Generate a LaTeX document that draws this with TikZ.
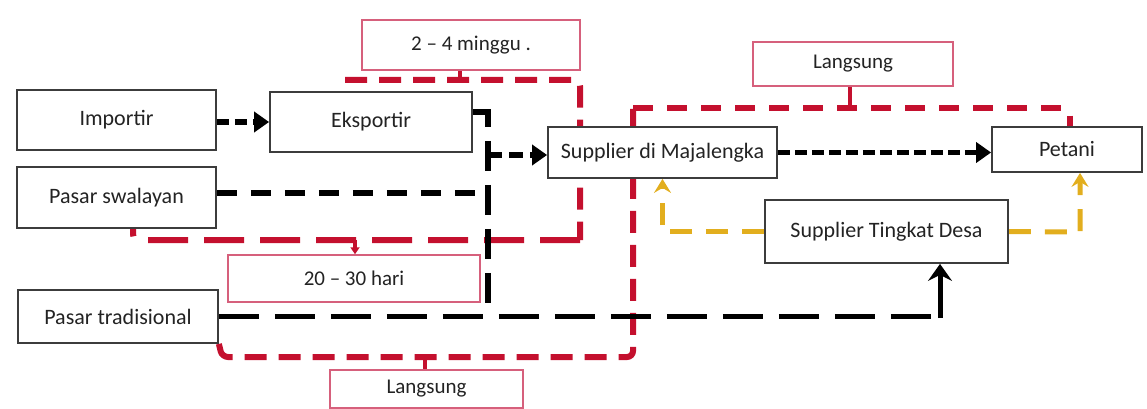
\documentclass[tikz,border=0pt]{standalone}
\usepackage{fontspec}
\setmainfont{Carlito}
\usetikzlibrary{arrows.meta,backgrounds,calc}

\definecolor{flowred}{RGB}{196,16,46}
\definecolor{tagpink}{RGB}{214,96,124}
\definecolor{flowgold}{RGB}{226,174,30}
\definecolor{boxgray}{RGB}{60,60,60}
\definecolor{textgray}{RGB}{35,35,35}

\begin{document}
\begin{tikzpicture}[x=1pt,y=-1pt,
  box/.style={draw=boxgray, line width=1.8pt, fill=white, text=textgray,
    font=\fontsize{22}{24}\selectfont, inner sep=0pt},
  tag/.style={draw=tagpink, line width=1.5pt, fill=white, text=textgray,
    font=\fontsize{21}{24}\selectfont, inner sep=0pt},
  blkflow/.style={draw=black, line width=5.5pt, dash pattern=on 30pt off 14pt},
  blkshort/.style={draw=black, line width=5.5pt, dash pattern=on 12pt off 5pt},
  redflow/.style={draw=flowred, line width=6pt, rounded corners=6pt},
  goldflow/.style={draw=flowgold, line width=5pt, dash pattern=on 22pt off 14pt},
  tick/.style={draw=flowred, line width=4pt},
  bighead/.style={-{Triangle[length=15pt,width=20pt]}},
  openhead/.style={-{Stealth[length=17pt,width=24pt,inset=6pt]}},
  goldhead/.style={-{Stealth[length=14pt,width=17pt,inset=5pt]}}
]
\useasboundingbox (0,0) rectangle (1147,409);

% actors
\node[box, minimum width=199pt, minimum height=60pt] (imp) at (116.5,120) {Importir};
\node[box, minimum width=202pt, minimum height=60pt] (eks) at (371,122) {Eksportir};
\node[box, minimum width=199pt, minimum height=61pt] (swa) at (116.5,197.5) {Pasar swalayan};
\node[box, minimum width=200pt, minimum height=53pt] (tra) at (118,316.5) {Pasar tradisional};
\node[box, minimum width=229pt, minimum height=51pt] (sup) at (662.5,152.5) {Supplier di Majalengka};
\node[box, minimum width=150pt, minimum height=45pt] (pet) at (1067,149.5) {Petani};
\node[box, minimum width=243pt, minimum height=63pt] (std) at (886.5,231.5) {Supplier Tingkat Desa};

% time labels
\node[tag, minimum width=218pt, minimum height=50pt] (t24) at (471,45) {2 -- 4 minggu .};
\node[tag, minimum width=200pt, minimum height=44pt] (lgA) at (853,64) {Langsung};
\node[tag, minimum width=252pt, minimum height=47pt] (t20) at (354,278.5) {20 -- 30 hari};
\node[tag, minimum width=193pt, minimum height=38pt] (lgB) at (426.5,389) {Langsung};

% bend points
\coordinate (r1s) at (345,80);
\coordinate (r1a) at (580,80);
\coordinate (r1b) at (580,240);
\coordinate (r1c) at (133,240);
\coordinate (r2a) at (222,357);
\coordinate (r2b) at (633,357);
\coordinate (r2c) at (633,108);
\coordinate (r2d) at (1070,108);
\coordinate (jtop) at (488,112);
\coordinate (jbot) at (488,307);
\coordinate (jmid) at (488,155);
\coordinate (tbend) at (940,318);
\coordinate (gright) at (1080,232);
\coordinate (k1) at (460,80);
\coordinate (k2) at (355,240);
\coordinate (k3) at (850,108);
\coordinate (k4) at (425,357);
\coordinate (sw) at (488,193);

\begin{pgfonlayer}{background}
  % payment periods (red)
  \draw[redflow, dash pattern=on 22pt off 12pt] (r1s) -- (r1a) -- (r1b);
  \draw[redflow, dash pattern=on 40pt off 16pt] (r1b) -- (r1c) -- (r1c |- swa.south);
  \draw[redflow, dash pattern=on 22pt off 12pt] (tra.south east) -- (r2a) -- (r2b) -- (r2c);
  \draw[redflow, dash pattern=on 20pt off 14pt] (r2c) -- (r2d) -- (r2d |- pet.north);
  \draw[tick] (k1) -- (k1 |- t24.south);
  \draw[tick, -{Triangle[length=7pt,width=9pt]}] (k2) -- (k2 |- t20.north);
  \draw[tick] (k3) -- (k3 |- lgA.south);
  \draw[tick] (k4) -- (k4 |- lgB.north);

  % goods flow (black)
  \draw[blkflow, dash pattern=on 12pt off 6pt, bighead] (imp.east |- eks.west) -- (eks.west);
  \draw[blkflow] (eks.east |- jtop) -- (jtop) -- (jbot);
  \draw[blkflow, dash pattern=on 14pt off 7pt, bighead] (jmid) -- (jmid -| sup.west);
  \draw[blkflow, dash pattern=on 20pt off 14pt] (swa.east |- sw) -- (sw);
  \draw[blkflow, dash pattern=on 40pt off 16pt] (tra.east) -- (tra.east -| tbend) -- (tbend);
  \draw[draw=black, line width=5pt, openhead] (tbend) -- (tbend |- std.south);
  \draw[blkshort, bighead] (sup.east) -- (sup.east -| pet.west);

  % village supplier flow (gold)
  \draw[goldflow, goldhead] (std.west) -- (std.west -| sup.south) -- (sup.south);
  \draw[goldflow, goldhead] (std.east) -- (gright) -- (gright |- pet.south);
\end{pgfonlayer}
\end{tikzpicture}
\end{document}
